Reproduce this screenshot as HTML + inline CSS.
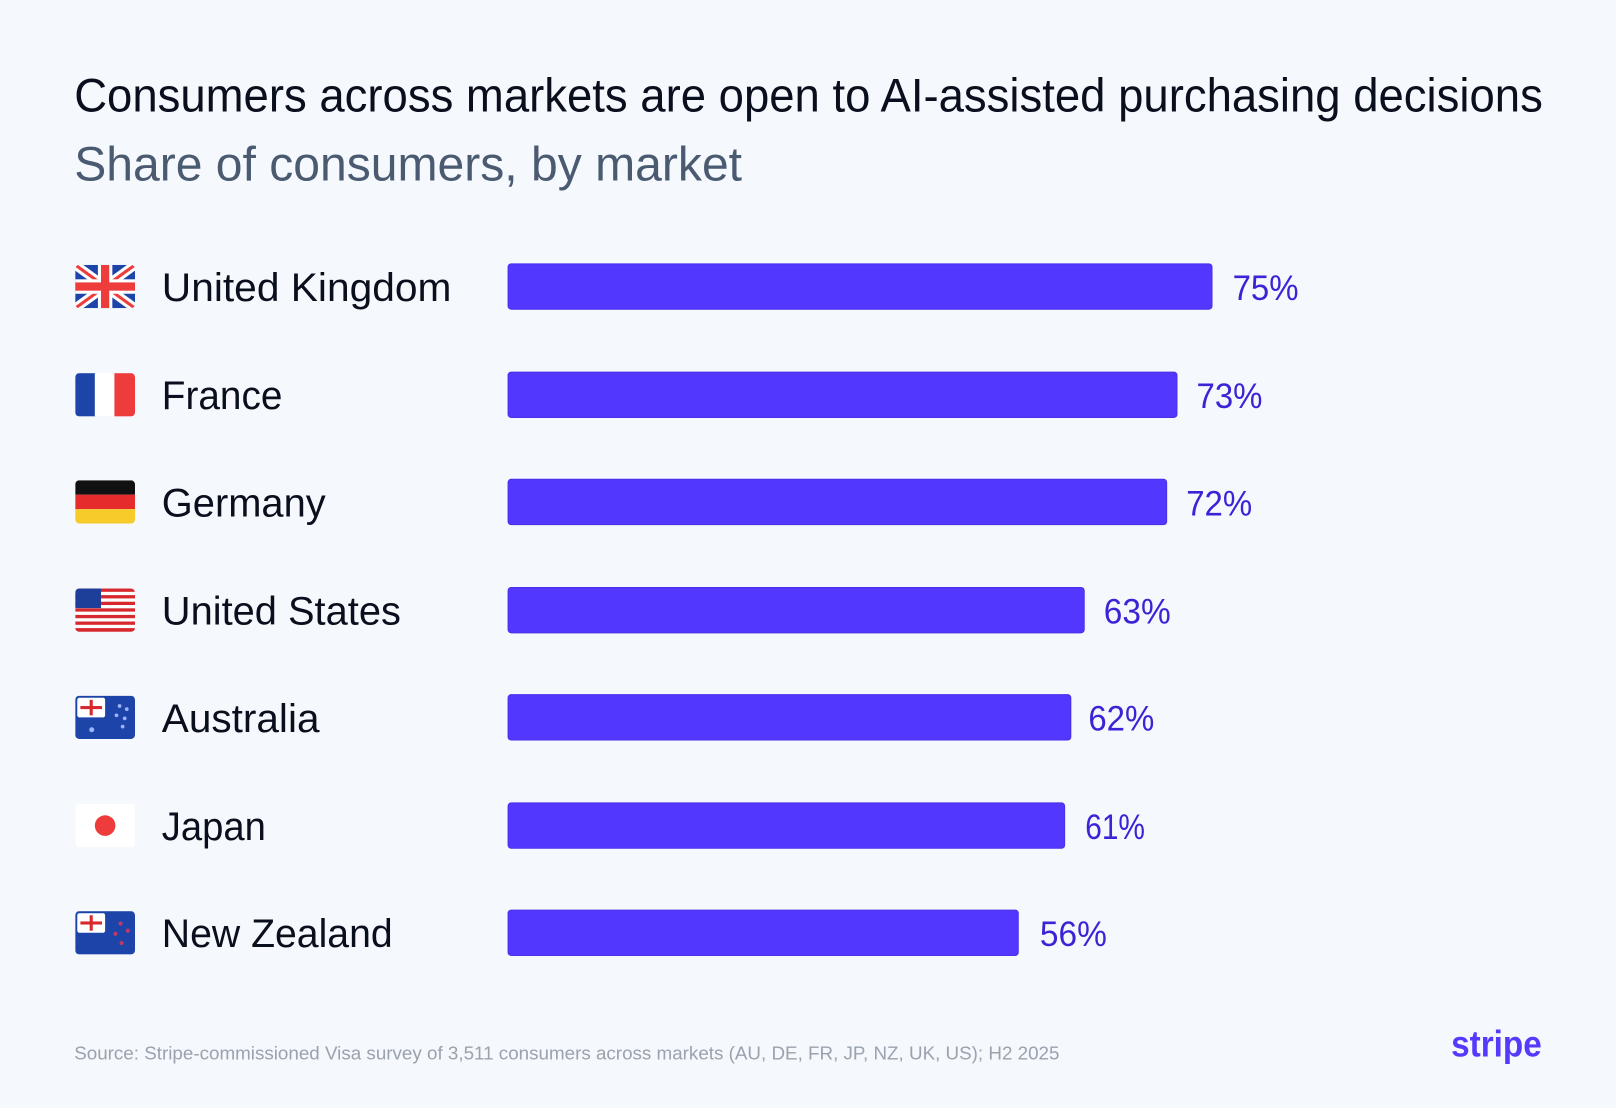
<!DOCTYPE html>
<html><head><meta charset="utf-8"><style>
html,body{margin:0;padding:0;background:#f5f8fc;}
svg{display:block;}
text{font-family:"Liberation Sans",sans-serif;}
</style></head><body>
<svg width="1616" height="1108" viewBox="0 0 1568 1075" preserveAspectRatio="none" xmlns="http://www.w3.org/2000/svg">
<rect width="1568" height="1075" fill="#f5f8fc"/>
<text x="72" y="108" font-size="46" fill="#0a0f1e" textLength="1425" lengthAdjust="spacingAndGlyphs">Consumers across markets are open to AI-assisted purchasing decisions</text>
<text x="72" y="175" font-size="47" fill="#4a5a70" textLength="648" lengthAdjust="spacingAndGlyphs">Share of consumers, by market</text>

<defs>
<clipPath id="f1"><rect x="0" y="0" width="58" height="42" rx="4"/></clipPath>
</defs>

<g transform="translate(73,257)">
<g clip-path="url(#f1)">
<rect width="58" height="42" fill="#1d44a8"/>
<path d="M0,0 L58,42 M58,0 L0,42" stroke="#fff" stroke-width="9"/>
<path d="M0,0 L58,42 M58,0 L0,42" stroke="#ee3b3b" stroke-width="3"/>
<rect x="22" y="0" width="14" height="42" fill="#fff"/><rect x="0" y="14" width="58" height="14" fill="#fff"/>
<rect x="25" y="0" width="8" height="42" fill="#ee3b3b"/><rect x="0" y="17" width="58" height="8" fill="#ee3b3b"/>
</g></g>
<g transform="translate(73,362)"><g clip-path="url(#f1)">
<rect width="20" height="42" fill="#1d44a8"/><rect x="19" width="20" height="42" fill="#fff"/><rect x="38" width="20" height="42" fill="#ee3b3b"/>
</g></g>
<g transform="translate(73,466)"><g clip-path="url(#f1)">
<rect width="58" height="14" fill="#111"/><rect y="14" width="58" height="14" fill="#e52b2b"/><rect y="28" width="58" height="14" fill="#f7cb2a"/>
</g></g>
<g transform="translate(73,571)"><g clip-path="url(#f1)">
<rect width="58" height="42" fill="#fff"/>
<g fill="#d6282e"><rect y="0" width="58" height="3.2"/><rect y="6.4" width="58" height="3.2"/><rect y="12.8" width="58" height="3.2"/><rect y="19.2" width="58" height="3.2"/><rect y="25.6" width="58" height="3.2"/><rect y="32" width="58" height="3.2"/><rect y="38.4" width="58" height="3.6"/></g>
<rect width="25" height="19" fill="#1d3f9a"/>
</g></g>
<g transform="translate(73,675)"><g clip-path="url(#f1)">
<rect width="58" height="42" fill="#1d44a8"/>
<rect x="2" y="2" width="27" height="19" fill="#fff" rx="2"/>
<rect x="14" y="4" width="3" height="15" fill="#d6282e"/><rect x="5" y="10" width="21" height="3" fill="#d6282e"/>
<g fill="#9fb4ff"><circle cx="43" cy="10" r="1.8"/><circle cx="50" cy="13" r="1.8"/><circle cx="40" cy="19" r="1.8"/><circle cx="48" cy="22" r="1.8"/><circle cx="46" cy="30" r="1.8"/><circle cx="16" cy="33" r="2.4"/></g>
</g></g>
<g transform="translate(73,780)"><g clip-path="url(#f1)">
<rect width="58" height="42" fill="#fff"/><circle cx="29" cy="21" r="10" fill="#ee3b3b"/>
</g></g>
<g transform="translate(73,884)"><g clip-path="url(#f1)">
<rect width="58" height="42" fill="#1d44a8"/>
<rect x="2" y="2" width="27" height="19" fill="#fff" rx="2"/>
<rect x="14" y="4" width="3" height="15" fill="#d6282e"/><rect x="5" y="10" width="21" height="3" fill="#d6282e"/>
<g fill="#c23a6a"><circle cx="44" cy="12" r="2"/><circle cx="51" cy="19" r="2"/><circle cx="39" cy="22" r="2"/><circle cx="45" cy="31" r="2"/></g>
</g></g>

<g font-size="39" fill="#0a0f1e">
<text x="157" y="292" textLength="281" lengthAdjust="spacingAndGlyphs">United Kingdom</text>
<text x="157" y="397" textLength="117" lengthAdjust="spacingAndGlyphs">France</text>
<text x="157" y="501" textLength="159" lengthAdjust="spacingAndGlyphs">Germany</text>
<text x="157" y="606" textLength="232" lengthAdjust="spacingAndGlyphs">United States</text>
<text x="157" y="710" textLength="153" lengthAdjust="spacingAndGlyphs">Australia</text>
<text x="157" y="815" textLength="101" lengthAdjust="spacingAndGlyphs">Japan</text>
<text x="157" y="919" textLength="224" lengthAdjust="spacingAndGlyphs">New Zealand</text>
</g>

<g fill="#5238ff" stroke="#4a30e8" stroke-width="1">
<rect x="493" y="256" width="683" height="44" rx="3"/>
<rect x="493" y="361" width="649" height="44" rx="3"/>
<rect x="493" y="465" width="639" height="44" rx="3"/>
<rect x="493" y="570" width="559" height="44" rx="3"/>
<rect x="493" y="674" width="546" height="44" rx="3"/>
<rect x="493" y="779" width="540" height="44" rx="3"/>
<rect x="493" y="883" width="495" height="44" rx="3"/>
</g>

<g font-size="34" fill="#3a25d6">
<text x="1196" y="291" textLength="64" lengthAdjust="spacingAndGlyphs">75%</text>
<text x="1161" y="396" textLength="64" lengthAdjust="spacingAndGlyphs">73%</text>
<text x="1151" y="500" textLength="64" lengthAdjust="spacingAndGlyphs">72%</text>
<text x="1071" y="605" textLength="65" lengthAdjust="spacingAndGlyphs">63%</text>
<text x="1056" y="709" textLength="64" lengthAdjust="spacingAndGlyphs">62%</text>
<text x="1053" y="814" textLength="58" lengthAdjust="spacingAndGlyphs">61%</text>
<text x="1009" y="918" textLength="65" lengthAdjust="spacingAndGlyphs">56%</text>
</g>

<text x="72" y="1028" font-size="18" fill="#9aa2ae" textLength="956" lengthAdjust="spacingAndGlyphs">Source: Stripe-commissioned Visa survey of 3,511 consumers across markets (AU, DE, FR, JP, NZ, UK, US); H2 2025</text>
<text x="1408" y="1025" font-size="36" font-weight="bold" fill="#533afd" textLength="88" lengthAdjust="spacingAndGlyphs">stripe</text>
</svg>
</body></html>
